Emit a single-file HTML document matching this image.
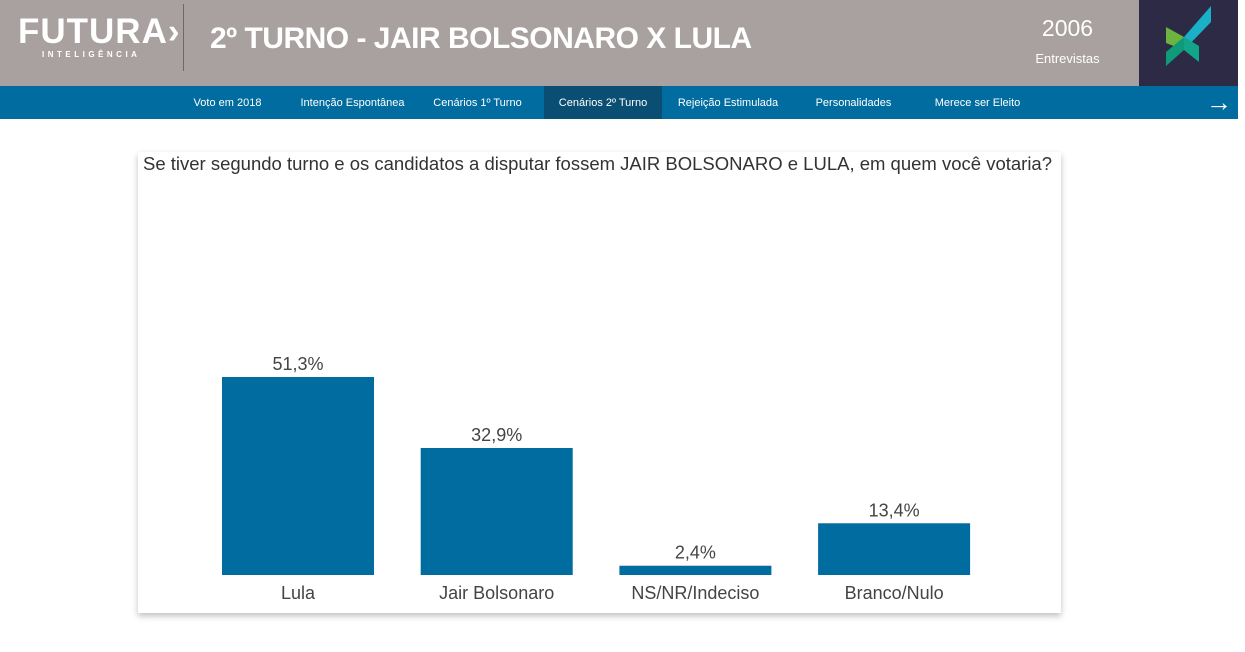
<!DOCTYPE html>
<html><head><meta charset="utf-8">
<style>
*{margin:0;padding:0;box-sizing:border-box}
body{width:1245px;height:652px;background:#fff;font-family:"Liberation Sans",sans-serif;position:relative;overflow:hidden}
.hdr{position:absolute;left:0;top:0;width:1139px;height:86px;background:#a8a19f}
.logo{position:absolute;left:18px;top:12px;color:#fff;font-size:35px;font-weight:bold;letter-spacing:1px}
.sub{position:absolute;left:42px;top:50px;color:#fff;font-size:8px;font-weight:bold;letter-spacing:3.5px}
.sep{position:absolute;left:183px;top:4px;width:1px;height:67px;background:#6e6866}
.title{position:absolute;left:210px;top:22px;color:#fff;font-size:30px;font-weight:bold;letter-spacing:-0.5px}
.num{position:absolute;left:1000px;width:135px;text-align:center;color:#fff}
.dark{position:absolute;left:1139px;top:0;width:99px;height:86px;background:#2c2a45}
.nav{position:absolute;left:0;top:86px;width:1238px;height:33px;background:#006c9f}
.nav span{position:absolute;top:0;height:33px;line-height:34px;color:#fff;font-size:11px;text-align:center}
.card{position:absolute;left:138px;top:152px;width:923px;height:461px;background:#fff;box-shadow:0 3px 6px rgba(0,0,0,.25)}
.q{position:absolute;left:143px;top:153px;font-size:18.5px;color:#333}
</style></head><body>
<div class="hdr">
<div class="logo">FUTURA›</div>
<div class="sub">INTELIGÊNCIA</div>
<div class="sep"></div>
<div class="title">2º TURNO - JAIR BOLSONARO X LULA</div>
<div class="num" style="top:15px;font-size:23px">2006</div>
<div class="num" style="top:51px;font-size:13px">Entrevistas</div>
</div>
<div class="dark">
<svg width="99" height="86">
<polygon points="27,27 45,37 45,50 27,43" fill="#6db33f"/>
<polygon points="72,6 72,22 45,50 45,37" fill="#1ab0c8"/>
<polygon points="45,37 60,46 60,62 45,50" fill="#12a58a"/>
<polygon points="45,50 27,66 27,52 45,37" fill="#0f9a7a"/>
</svg></div>
<div class="nav">
<span style="left:180px;width:95px">Voto em 2018</span>
<span style="left:290px;width:125px">Intenção Espontânea</span>
<span style="left:425px;width:105px">Cenários 1º Turno</span>
<span style="left:544px;width:118px;background:#0a4f73">Cenários 2º Turno</span>
<span style="left:668px;width:120px">Rejeição Estimulada</span>
<span style="left:800px;width:107px">Personalidades</span>
<span style="left:920px;width:115px">Merece ser Eleito</span>
<span style="left:1200px;width:38px;font-size:26px;font-weight:bold;line-height:32px">→</span>
</div>
<div class="card"></div>
<div class="q">Se tiver segundo turno e os candidatos a disputar fossem JAIR BOLSONARO e LULA, em quem você votaria?</div>
<svg id="chart" width="1245" height="652" style="position:absolute;left:0;top:0"></svg>
<script>
const categories=["Lula","Jair Bolsonaro","NS/NR/Indeciso","Branco/Nulo"];
const values=[51.3,32.9,2.4,13.4];
const valueLabels=["51,3%","32,9%","2,4%","13,4%"];
const NS="http://www.w3.org/2000/svg";
const svg=document.getElementById("chart");
const baseY=575, pxPer=3.86;
function xCenter(i){return 298+i*198.7;}
function yPos(v){return baseY-v*pxPer;}
categories.forEach((c,i)=>{
  const r=document.createElementNS(NS,"rect");
  r.setAttribute("x",xCenter(i)-76);r.setAttribute("width",152);
  r.setAttribute("y",yPos(values[i]));r.setAttribute("height",baseY-yPos(values[i]));
  r.setAttribute("fill","#006c9f");
  
  
  svg.appendChild(r);
  const t=document.createElementNS(NS,"text");
  t.setAttribute("x",xCenter(i));t.setAttribute("y",yPos(values[i])-7);
  t.setAttribute("text-anchor","middle");t.setAttribute("font-size","18");t.setAttribute("fill","#444");
  t.setAttribute("font-family","Liberation Sans, sans-serif");
  t.textContent=valueLabels[i];
  
  
  svg.appendChild(t);
  const l=document.createElementNS(NS,"text");
  l.setAttribute("x",xCenter(i));l.setAttribute("y",599);
  l.setAttribute("text-anchor","middle");l.setAttribute("font-size","18");l.setAttribute("fill","#444");
  l.setAttribute("font-family","Liberation Sans, sans-serif");
  l.textContent=c;
  
  
  svg.appendChild(l);
});
</script>
</body></html>
